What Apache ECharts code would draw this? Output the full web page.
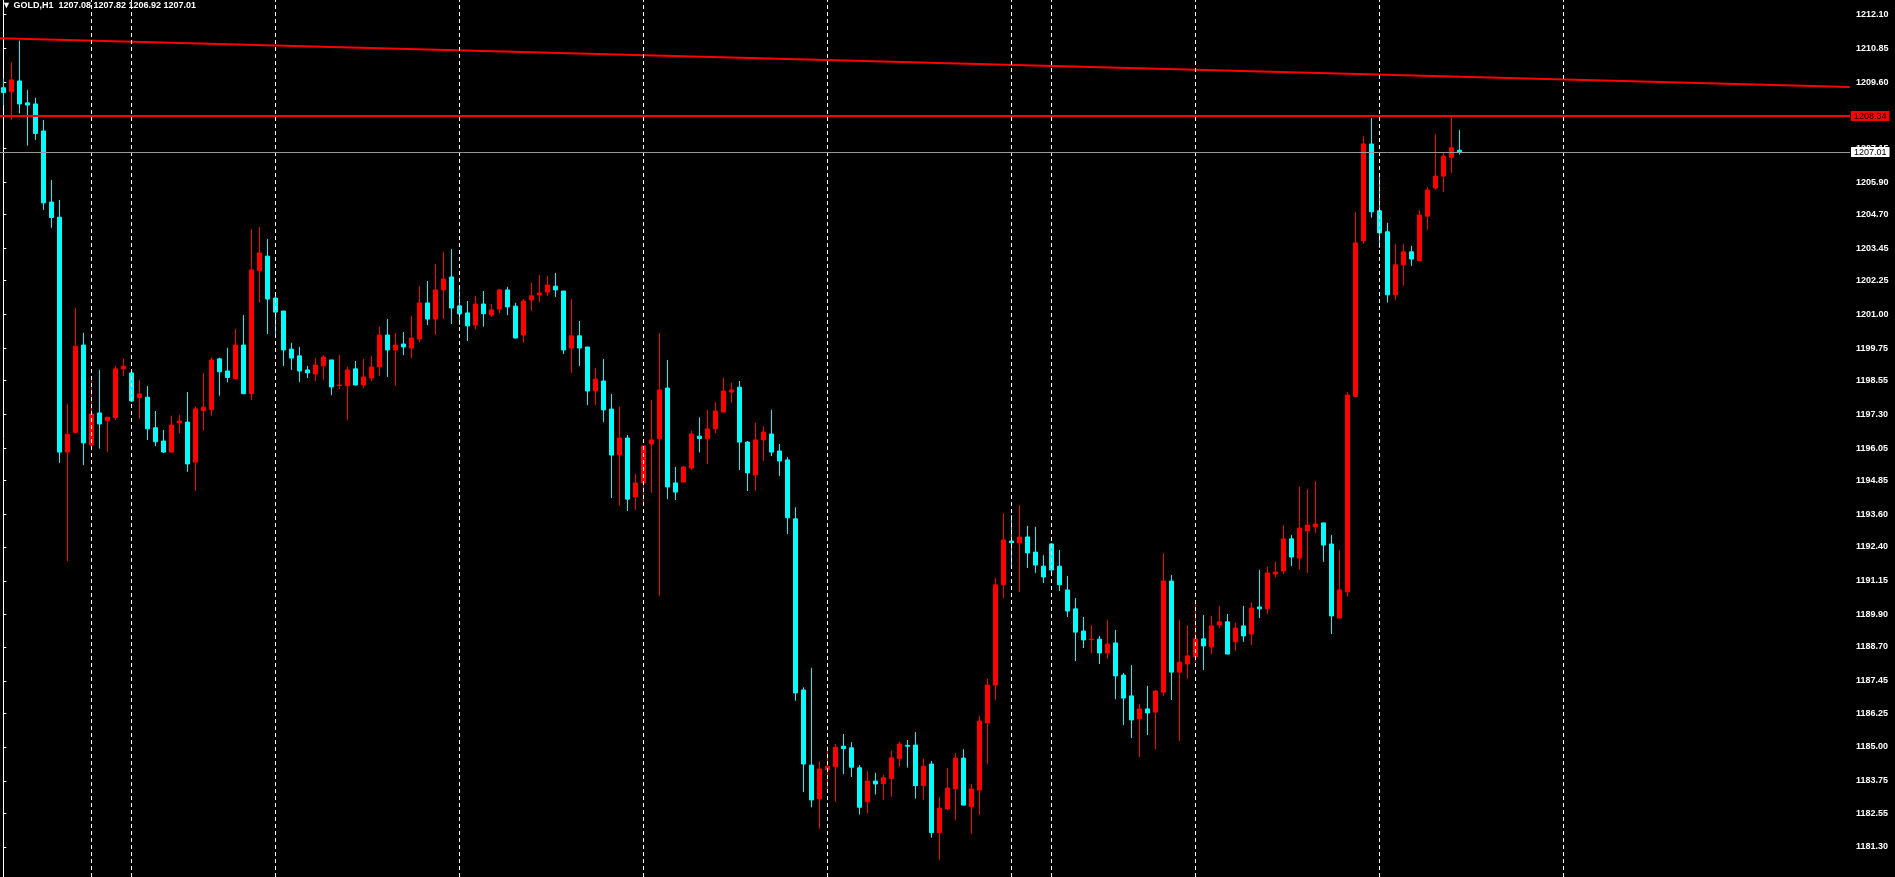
<!DOCTYPE html>
<html>
<head>
<meta charset="utf-8">
<script src="https://cdn.jsdelivr.net/npm/echarts@6/dist/echarts.min.js"></script>
<style>
html,body{margin:0;padding:0;background:#000;}
#chart{width:1895px;height:877px;}
</style>
</head>
<body>
<div id="chart"></div>
<script>
// ---- data (GOLD, H1) ----
const symbolName = 'GOLD,H1';
const opens = [1209.39,1209.24,1209.64,1208.83,1208.79,1207.79,1205.16,1204.60,1195.91,1196.64,1199.87,1196.17,1197.36,1197.07,1197.19,1198.99,1198.84,1197.93,1197.94,1196.81,1196.32,1195.91,1196.99,1197.02,1195.54,1197.44,1197.48,1199.36,1198.91,1198.63,1199.87,1198.07,1202.62,1203.16,1201.61,1201.13,1199.72,1199.47,1198.95,1198.80,1199.10,1199.32,1198.38,1198.36,1198.99,1198.39,1198.65,1199.06,1200.24,1199.69,1199.91,1199.76,1200.09,1201.43,1200.83,1201.91,1202.39,1201.32,1201.06,1200.61,1201.39,1200.98,1201.20,1201.91,1201.31,1200.24,1201.54,1201.72,1201.83,1202.05,1201.87,1199.76,1200.21,1199.80,1198.17,1198.54,1197.50,1195.80,1196.43,1194.25,1194.77,1196.21,1196.40,1198.28,1194.77,1194.80,1195.32,1196.50,1196.40,1196.77,1197.39,1198.13,1198.31,1196.28,1195.06,1196.36,1196.58,1195.95,1195.62,1193.44,1187.11,1184.33,1183.08,1184.16,1184.27,1185.03,1184.97,1184.23,1182.97,1183.74,1183.65,1183.83,1184.57,1185.06,1185.07,1183.57,1184.37,1181.83,1182.71,1183.45,1184.59,1182.79,1183.41,1185.89,1187.29,1191.00,1192.62,1192.55,1192.77,1192.21,1191.69,1192.51,1191.69,1190.81,1190.11,1189.29,1188.97,1188.99,1188.48,1188.85,1187.66,1186.89,1186.04,1186.41,1186.29,1187.03,1191.14,1187.77,1188.07,1188.33,1189.00,1188.70,1189.51,1189.63,1188.89,1189.48,1189.18,1190.18,1190.11,1191.40,1191.51,1192.70,1191.99,1192.99,1193.14,1193.29,1192.51,1189.77,1190.74,1197.97,1203.73,1207.31,1204.84,1204.06,1201.73,1202.84,1203.32,1202.99,1204.64,1205.68,1206.12,1206.82,1207.08];
const highs = [1209.72,1210.34,1211.13,1209.31,1209.02,1208.20,1205.98,1205.24,1197.69,1201.25,1200.32,1198.58,1198.95,1197.20,1199.11,1199.36,1198.84,1198.58,1198.35,1197.43,1196.73,1197.26,1197.28,1198.13,1197.59,1198.84,1199.40,1199.40,1199.77,1200.47,1200.98,1204.16,1204.24,1203.79,1201.78,1201.13,1199.95,1199.80,1199.10,1199.39,1199.50,1199.32,1199.50,1199.06,1199.28,1199.35,1199.47,1200.54,1200.83,1200.32,1200.35,1200.95,1202.06,1202.24,1202.87,1203.31,1203.42,1202.06,1201.50,1201.69,1201.87,1201.39,1201.94,1202.02,1201.43,1201.57,1202.17,1202.46,1202.43,1202.54,1201.87,1201.57,1200.76,1199.80,1199.02,1199.35,1198.06,1197.58,1196.54,1195.10,1196.15,1197.84,1200.32,1199.32,1195.36,1195.40,1196.69,1197.20,1197.47,1197.76,1198.66,1198.47,1198.54,1196.32,1196.99,1196.87,1197.47,1196.21,1195.72,1193.87,1187.21,1187.93,1184.48,1185.03,1185.11,1185.48,1185.18,1184.33,1184.11,1184.04,1183.96,1184.85,1185.19,1185.26,1185.55,1184.56,1184.48,1183.15,1184.22,1184.78,1184.92,1183.63,1186.15,1187.52,1191.25,1193.66,1193.58,1193.95,1193.18,1193.14,1192.10,1192.55,1192.29,1191.33,1190.51,1189.81,1189.51,1189.11,1189.70,1189.33,1187.74,1188.03,1186.59,1187.26,1187.11,1192.18,1191.36,1189.70,1189.51,1190.29,1189.88,1189.85,1190.22,1189.92,1189.59,1190.22,1190.36,1191.55,1191.66,1191.85,1193.21,1192.84,1194.62,1194.55,1194.84,1193.29,1192.84,1192.29,1198.13,1204.80,1207.60,1208.27,1206.08,1204.39,1203.61,1203.61,1203.54,1204.86,1205.71,1207.68,1206.99,1208.30,1207.82];
const lows = [1208.75,1208.20,1208.44,1207.25,1207.46,1204.87,1204.21,1195.51,1191.88,1196.61,1195.43,1195.97,1196.04,1195.91,1197.10,1198.72,1197.76,1197.14,1196.36,1196.13,1195.88,1195.91,1196.60,1195.18,1194.48,1196.70,1197.26,1198.00,1198.49,1198.59,1198.05,1197.84,1201.44,1200.28,1200.20,1199.10,1198.95,1198.50,1198.65,1198.54,1198.58,1198.02,1198.24,1197.10,1198.38,1198.28,1198.54,1198.73,1198.69,1198.36,1199.50,1199.39,1199.98,1200.61,1200.24,1200.83,1200.65,1200.61,1200.02,1200.46,1200.55,1200.91,1201.06,1200.98,1200.12,1199.95,1201.13,1201.46,1201.69,1201.65,1199.54,1198.84,1199.10,1197.65,1197.65,1197.02,1194.21,1193.92,1193.73,1193.77,1193.95,1194.40,1190.60,1194.17,1194.14,1194.79,1195.25,1195.90,1195.47,1196.62,1197.38,1197.73,1195.25,1194.47,1194.47,1195.58,1195.76,1195.02,1192.88,1186.71,1183.33,1182.77,1181.98,1183.41,1182.97,1184.00,1183.89,1182.50,1182.54,1183.24,1183.05,1183.16,1184.27,1184.24,1183.09,1183.05,1181.65,1180.82,1182.67,1182.30,1182.84,1181.78,1182.48,1184.37,1186.74,1190.51,1191.62,1190.73,1191.62,1191.44,1191.07,1191.36,1190.77,1189.81,1188.18,1188.66,1188.48,1188.07,1188.26,1186.77,1185.81,1185.33,1184.63,1185.44,1184.92,1186.89,1186.74,1185.22,1187.52,1188.15,1187.85,1188.44,1189.40,1188.43,1188.55,1188.89,1188.77,1189.77,1189.92,1191.29,1191.40,1191.70,1191.55,1191.44,1192.92,1191.85,1189.18,1189.76,1190.57,1197.96,1203.62,1204.58,1203.46,1201.44,1201.54,1202.06,1202.80,1202.98,1204.13,1205.61,1205.54,1206.24,1206.92];
const closes = [1209.21,1209.68,1208.79,1208.75,1207.70,1205.13,1204.59,1195.91,1196.57,1199.83,1196.25,1197.32,1196.95,1197.20,1198.99,1199.09,1197.80,1198.06,1196.77,1196.29,1195.91,1196.91,1197.06,1195.47,1197.51,1197.57,1199.32,1198.88,1198.67,1199.87,1198.07,1202.65,1203.28,1201.57,1201.09,1199.69,1199.39,1198.91,1198.84,1199.13,1199.43,1198.32,1198.39,1198.95,1198.39,1198.69,1199.06,1200.24,1199.69,1199.87,1199.80,1200.13,1201.43,1200.83,1201.91,1202.31,1201.24,1201.02,1200.58,1201.39,1201.03,1201.17,1201.91,1201.28,1200.13,1201.50,1201.69,1201.80,1202.09,1201.91,1199.69,1200.21,1199.76,1198.17,1198.61,1197.47,1195.80,1196.43,1194.17,1194.77,1196.14,1196.36,1198.21,1194.62,1194.43,1195.36,1196.58,1196.41,1196.77,1197.43,1198.17,1198.21,1196.28,1195.14,1196.36,1196.65,1195.91,1195.58,1193.48,1187.00,1184.37,1183.04,1184.19,1184.29,1184.99,1184.94,1184.25,1182.77,1183.74,1183.63,1183.86,1184.60,1185.11,1185.03,1183.57,1184.29,1181.83,1182.74,1183.48,1184.59,1182.85,1183.45,1185.96,1187.29,1191.00,1192.66,1192.56,1192.77,1192.18,1191.73,1191.29,1191.55,1191.00,1190.03,1189.25,1188.96,1188.99,1188.48,1188.81,1187.63,1186.81,1186.00,1186.41,1186.26,1187.07,1191.14,1187.77,1188.14,1188.37,1189.00,1188.74,1189.48,1189.63,1188.44,1189.40,1189.11,1190.14,1190.11,1191.44,1191.47,1192.70,1192.03,1193.10,1193.21,1193.25,1192.47,1189.85,1190.81,1198.02,1203.65,1207.31,1204.80,1204.02,1201.73,1202.84,1203.32,1203.05,1204.68,1205.61,1206.12,1206.86,1207.17,1207.01];

// bar indices where the day separators are drawn
const separatorBars = [11, 16, 34, 57, 80, 103, 126, 131, 149, 172, 195];
// horizontal level and bid line
const levelPrice = 1208.34;
const bidPrice = 1207.01;
// trend line anchors [bar, price]
const trendLine = [[-0.41, 1211.22], [230.8, 1209.42]];
// price scale tick labels
const priceTicks = [1212.10,1210.85,1209.60,1208.35,1207.15,1205.90,1204.70,1203.45,1202.25,1201.00,1199.75,1198.55,1197.30,1196.05,1194.85,1193.60,1192.40,1191.15,1189.90,1188.70,1187.45,1186.25,1185.00,1183.75,1182.55,1181.30];
// visible window
const barMin = -0.4125, barMax = 230.8375;
const priceMin = 1180.19, priceMax = 1212.636;

const candles = opens.map((o, i) => [i, o, closes[i], lows[i], highs[i]]);
const last = opens.length - 1;
const headerText = '\u25BC ' + symbolName + '  ' +
  [opens[last], highs[last], lows[last], closes[last]].map(v => v.toFixed(2)).join(' ');

const FONT = '"Liberation Sans", "DejaVu Sans", sans-serif';

const markData = [];
separatorBars.forEach(b => markData.push({
  xAxis: b,
  lineStyle: {color: '#ffffff', width: 1, type: [4, 3]},
  label: {show: false}
}));
markData.push({
  yAxis: bidPrice,
  lineStyle: {color: '#9a9a9a', width: 1, type: 'solid'},
  label: {show: true, position: 'end', distance: 1, formatter: p => Number(p.value).toFixed(2),
    backgroundColor: '#ffffff', color: '#000000', fontSize: 9, fontFamily: FONT, padding: [1, 3, 0, 3]}
});
markData.push({
  yAxis: levelPrice,
  lineStyle: {color: '#ff0000', width: 2, type: 'solid'},
  label: {show: true, position: 'end', distance: 1, formatter: p => Number(p.value).toFixed(2),
    backgroundColor: '#ff0000', color: '#000000', fontSize: 9, fontFamily: FONT, padding: [1, 3, 0, 3]}
});

const chart = echarts.init(document.getElementById('chart'), null, {renderer: 'canvas'});
chart.setOption({
  backgroundColor: '#000000',
  animation: false,
  title: {
    text: headerText, left: 2, top: 1, padding: 0,
    textStyle: {color: '#ffffff', fontSize: 9, fontWeight: 'bold', fontFamily: FONT}
  },
  grid: {left: 0, right: 45, top: 0, bottom: 0, outerBoundsMode: 'none', containLabel: false},
  xAxis: {
    type: 'value', min: barMin, max: barMax,
    axisLine: {show: false}, axisTick: {show: false}, axisLabel: {show: false}, splitLine: {show: false}
  },
  yAxis: {
    type: 'value', position: 'right', min: priceMin, max: priceMax, scale: true,
    axisLine: {show: true, lineStyle: {color: '#ffffff', width: 1}},
    axisTick: {show: true, inside: false, length: 3, lineStyle: {color: '#ffffff'}, customValues: priceTicks},
    axisLabel: {show: true, customValues: priceTicks, formatter: v => v.toFixed(2), color: '#ffffff',
      fontSize: 9, fontWeight: 'bold', fontFamily: FONT, margin: 6},
    splitLine: {show: false}
  },
  series: [{
    type: 'candlestick',
    data: candles,
    barWidth: 4,
    silent: true,
    itemStyle: {color: '#ff0000', color0: '#00ffff', borderColor: '#ff0000', borderColor0: '#00ffff', borderWidth: 1},
    markLine: {silent: true, symbol: ['none', 'none'], animation: false, data: markData}
  }, {
    type: 'line',
    data: trendLine,
    symbol: 'none',
    silent: true,
    clip: true,
    lineStyle: {color: '#ff0000', width: 2},
    z: 3
  }]
});
</script>
</body>
</html>
